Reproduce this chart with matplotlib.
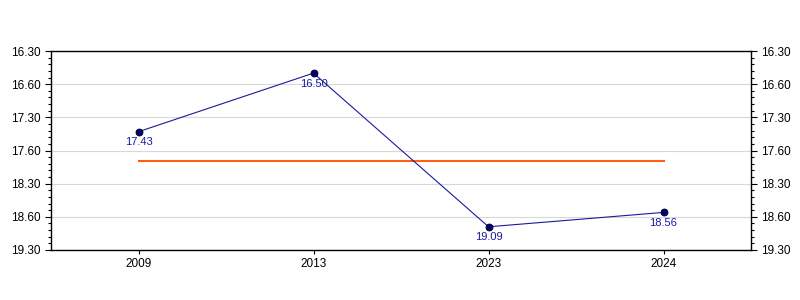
import numpy as np
import matplotlib
matplotlib.use("Agg")
import matplotlib.pyplot as plt
from matplotlib.ticker import MultipleLocator

plt.rcParams['font.family'] = ['Liberation Sans', 'DejaVu Sans']

# data: times written as minutes.seconds
years = ["2009", "2013", "2023", "2024"]
times = ["17.43", "16.50", "19.09", "18.56"]
# tick labels as shown on the original chart
tick_vals = [16.5, 17.0, 17.5, 18.0, 18.5, 19.0, 19.5]
tick_labels = ["16.30", "16.60", "17.30", "17.60", "18.30", "18.60", "19.30"]


def to_minutes(s):
    m, sec = s.split(".")
    return int(m) + int(sec) / 60.0


y = np.array([to_minutes(t) for t in times])
x = np.arange(len(years))
avg = y.mean()

fig = plt.figure(figsize=(8, 3), dpi=100)
ax = fig.add_axes([51 / 800, 1 - 250 / 300, (751 - 51) / 800, (250 - 51) / 300])

ax.plot(x, y, color='#1a1aa0', linewidth=0.8, zorder=3)
ax.plot(x, y, 'o', color='#000080', markeredgecolor='black',
        markeredgewidth=0.6, markersize=5, zorder=4)
ax.plot([x[0], x[-1]], [avg, avg], color='#ff6010', linewidth=1.5, zorder=2)

for xi, yi, lab in zip(x, y, times):
    ax.annotate(lab, (xi, yi), xytext=(0, -4), textcoords='offset points',
                ha='center', va='top', fontsize=8, color='#1a1aa0', zorder=5)

ax.set_ylim(19.5, 16.5)
ax.set_xlim(-0.5, 3.5)
ax.set_yticks(tick_vals)
ax.set_yticklabels(tick_labels)
ax.yaxis.set_minor_locator(MultipleLocator(0.1))
ax.set_xticks(x)
ax.set_xticklabels(years)

ax.tick_params(axis='y', which='both', left=True, right=True,
               labelleft=True, labelright=True, direction='out',
               labelsize=8.5, pad=3)
ax.tick_params(axis='y', which='major', length=4.5, width=0.8)
ax.tick_params(axis='y', which='minor', length=2.5, width=0.8)
ax.tick_params(axis='x', length=3, labelsize=8.5, pad=3)

ax.grid(axis='y', which='major', color='#d8d8d8', linewidth=0.8)
ax.set_axisbelow(True)
for sp in ax.spines.values():
    sp.set_linewidth(1.0)

fig.savefig('out.png', dpi=100)
